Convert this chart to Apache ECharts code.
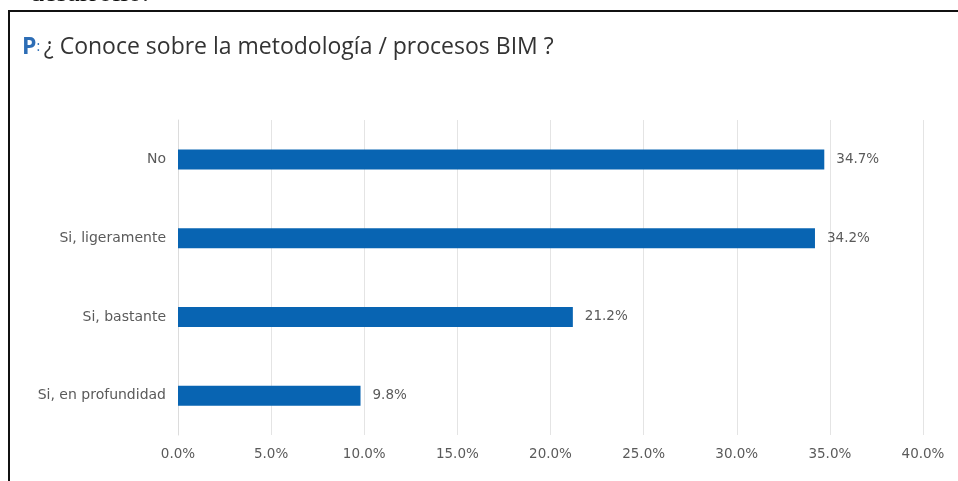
<!DOCTYPE html>
<html><head><meta charset="utf-8">
<script src="https://cdn.jsdelivr.net/npm/echarts@6/dist/echarts.min.js"></script>
<style>html,body{margin:0;padding:0;background:#fff}#c{width:958px;height:481px}</style>
</head><body><div id="c"></div>
<script>
const categories = ['No', 'Si, ligeramente', 'Si, bastante', 'Si, en profundidad'];
const values = [34.7, 34.2, 21.2, 9.8];
const tickMin = 0, tickMax = 40, tickStep = 5;

const FONT = '"DejaVu Sans"';
const chart = echarts.init(document.getElementById('c'), null, {renderer: 'canvas'});
chart.setOption({
  backgroundColor: '#ffffff',
  animation: false,
  grid: {left: 178, right: 35, top: 120, bottom: 46, containLabel: false},
  xAxis: {
    type: 'value', min: tickMin, max: tickMax, interval: tickStep,
    axisLine: {show: false}, axisTick: {show: false},
    splitLine: {show: true, lineStyle: {color: '#e4e4e4', width: 1}},
    axisLabel: {formatter: v => v.toFixed(1) + '%', color: '#5a5a5a', fontSize: 13.5, fontFamily: FONT, margin: 12}
  },
  yAxis: {
    type: 'category', data: categories, inverse: true,
    axisLine: {show: true, lineStyle: {color: '#dcdcdc'}}, axisTick: {show: false},
    axisLabel: {color: '#5a5a5a', fontSize: 14, fontFamily: FONT, margin: 12}
  },
  series: [{
    type: 'bar', data: values, barWidth: 20,
    itemStyle: {color: '#0864b2'},
    label: {show: true, position: 'right', distance: 12, formatter: p => p.value.toFixed(1) + '%', color: '#5a5a5a', fontSize: 13.5, fontFamily: FONT}
  }],
  graphic: [
    {type: 'text', left: 30, top: -20, style: {text: 'desarrollo.', font: '28px "Liberation Serif"', fill: '#111'}},
    {type: 'line', shape: {x1: 8, y1: 11, x2: 958, y2: 11}, style: {stroke: '#111', lineWidth: 2}},
    {type: 'line', shape: {x1: 9, y1: 11, x2: 9, y2: 481}, style: {stroke: '#111', lineWidth: 2}},
    {type: 'text', left: 22, top: 36, style: {
      text: '{p|P}{c|: }{t|¿ Conoce sobre la metodología / procesos BIM ?}',
      rich: {
        p: {fill: '#2d6db5', font: 'bold 23px "Open Sans"'},
        c: {fill: '#2d6db5', font: '14px "Open Sans"'},
        t: {fill: '#333', font: '23px "Open Sans"'}
      }
    }}
  ]
});
</script></body></html>
